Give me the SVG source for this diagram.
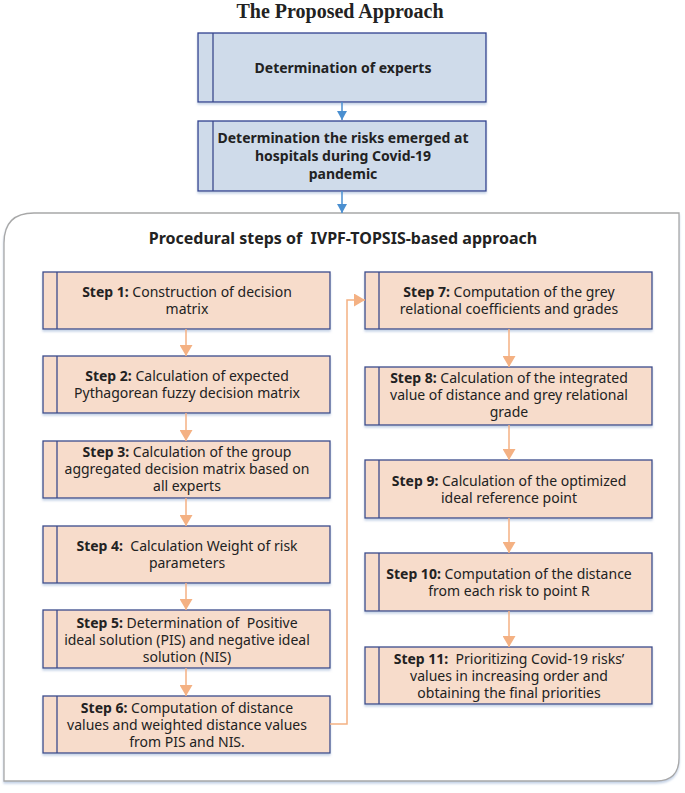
<svg xmlns="http://www.w3.org/2000/svg" width="685" height="793" viewBox="0 0 685 793">
<style>
.title{font-family:"Liberation Serif",serif;font-weight:bold;font-size:20px;fill:#222;text-anchor:middle}
.head{font-family:"Noto Sans","Open Sans",sans-serif;font-weight:bold;font-size:16px;fill:#222;text-anchor:middle;white-space:pre}
.bt{font-family:"Noto Sans","Open Sans",sans-serif;font-weight:bold;font-size:14px;fill:#222;text-anchor:middle}
.st{font-family:"Noto Sans","Open Sans",sans-serif;font-size:14px;fill:#222;text-anchor:middle;white-space:pre}
.st .b{font-weight:bold}
.blue{fill:#cfdbea;stroke:#2f3f8f;stroke-width:1.3}
.peach{fill:#f7dccb;stroke:#3b4a8c;stroke-width:1.3}
.div{stroke:#3b4a8c;stroke-width:1.3;fill:none}
.ca{stroke:#f4b183;stroke-width:1.5;fill:none;marker-end:url(#pa)}
.cb{stroke:#4a8fd0;stroke-width:1.5;fill:none;marker-end:url(#ba)}
</style>
<defs>
<marker id="pa" markerUnits="userSpaceOnUse" markerWidth="11" markerHeight="13" refX="11" refY="6.5" orient="auto"><path d="M0,0 L11,6.5 L0,13 z" fill="#f4b183"/></marker>
<marker id="ba" markerUnits="userSpaceOnUse" markerWidth="9" markerHeight="10" refX="9" refY="5" orient="auto"><path d="M0,0 L9,5 L0,10 z" fill="#4a8fd0"/></marker>
<filter id="sh" x="-5%" y="-10%" width="110%" height="125%"><feDropShadow dx="0" dy="2" stdDeviation="1.2" flood-color="#9fb6d6" flood-opacity="0.6"/></filter>
</defs>

<text class="title" x="340" y="18">The Proposed Approach</text>

<g id="container">
<path d="M4,781 L4,243 Q4,213 34,213 L679,213 L679,758 Q679,781 656,781 Z" fill="#fff" stroke="#a8a8a8" stroke-width="1.3" filter="url(#sh)"/>
<text class="head" x="343" y="244" xml:space="preserve">Procedural steps of  IVPF-TOPSIS-based approach</text>
</g>

<g id="experts">
<rect class="blue" x="198" y="33" width="288" height="69" filter="url(#sh)"/>
<line class="div" x1="213" y1="33" x2="213" y2="102"/>
<text class="bt" x="343" y="73">Determination of experts</text>
</g>

<g id="risks">
<rect class="blue" x="198" y="121" width="288" height="70" filter="url(#sh)"/>
<line class="div" x1="213" y1="121" x2="213" y2="191"/>
<text class="bt" x="343" y="143">Determination the risks emerged at<tspan x="343" dy="18">hospitals during Covid-19</tspan><tspan x="343" dy="18">pandemic</tspan></text>
</g>

<g id="step1">
<rect class="peach" x="43" y="272" width="287" height="57" filter="url(#sh)"/>
<line class="div" x1="57" y1="272" x2="57" y2="329"/>
<text class="st" x="187" y="297"><tspan class="b">Step 1:</tspan> Construction of decision<tspan x="187" dy="17">matrix</tspan></text>
</g>
<g id="step2">
<rect class="peach" x="43" y="356" width="287" height="57" filter="url(#sh)"/>
<line class="div" x1="57" y1="356" x2="57" y2="413"/>
<text class="st" x="187" y="381"><tspan class="b">Step 2:</tspan> Calculation of expected<tspan x="187" dy="17">Pythagorean fuzzy decision matrix</tspan></text>
</g>
<g id="step3">
<rect class="peach" x="43" y="441" width="287" height="57" filter="url(#sh)"/>
<line class="div" x1="57" y1="441" x2="57" y2="498"/>
<text class="st" x="187" y="457"><tspan class="b">Step 3:</tspan> Calculation of the group<tspan x="187" dy="17">aggregated decision matrix based on</tspan><tspan x="187" dy="17">all experts</tspan></text>
</g>
<g id="step4">
<rect class="peach" x="43" y="526" width="287" height="57" filter="url(#sh)"/>
<line class="div" x1="57" y1="526" x2="57" y2="583"/>
<text class="st" x="187" y="551" xml:space="preserve"><tspan class="b">Step 4:</tspan>  Calculation Weight of risk<tspan x="187" dy="17">parameters</tspan></text>
</g>
<g id="step5">
<rect class="peach" x="43" y="610" width="287" height="58" filter="url(#sh)"/>
<line class="div" x1="57" y1="610" x2="57" y2="668"/>
<text class="st" x="187" y="628" xml:space="preserve"><tspan class="b">Step 5:</tspan> Determination of  Positive<tspan x="187" dy="17">ideal solution (PIS) and negative ideal</tspan><tspan x="187" dy="17">solution (NIS)</tspan></text>
</g>
<g id="step6">
<rect class="peach" x="43" y="696" width="287" height="57" filter="url(#sh)"/>
<line class="div" x1="57" y1="696" x2="57" y2="753"/>
<text class="st" x="187" y="713"><tspan class="b">Step 6:</tspan> Computation of distance<tspan x="187" dy="17">values and weighted distance values</tspan><tspan x="187" dy="17">from PIS and NIS.</tspan></text>
</g>

<g id="step7">
<rect class="peach" x="365" y="272" width="287" height="57" filter="url(#sh)"/>
<line class="div" x1="379" y1="272" x2="379" y2="329"/>
<text class="st" x="509" y="297"><tspan class="b">Step 7:</tspan> Computation of the grey<tspan x="509" dy="17">relational coefficients and grades</tspan></text>
</g>
<g id="step8">
<rect class="peach" x="365" y="367" width="287" height="58" filter="url(#sh)"/>
<line class="div" x1="379" y1="367" x2="379" y2="425"/>
<text class="st" x="509" y="383"><tspan class="b">Step 8:</tspan> Calculation of the integrated<tspan x="509" dy="17">value of distance and grey relational</tspan><tspan x="509" dy="17">grade</tspan></text>
</g>
<g id="step9">
<rect class="peach" x="365" y="460" width="287" height="58" filter="url(#sh)"/>
<line class="div" x1="379" y1="460" x2="379" y2="518"/>
<text class="st" x="509" y="486"><tspan class="b">Step 9:</tspan> Calculation of the optimized<tspan x="509" dy="17">ideal reference point</tspan></text>
</g>
<g id="step10">
<rect class="peach" x="365" y="553" width="287" height="58" filter="url(#sh)"/>
<line class="div" x1="379" y1="553" x2="379" y2="611"/>
<text class="st" x="509" y="579"><tspan class="b">Step 10:</tspan> Computation of the distance<tspan x="509" dy="17">from each risk to point R</tspan></text>
</g>
<g id="step11">
<rect class="peach" x="365" y="647" width="287" height="57" filter="url(#sh)"/>
<line class="div" x1="379" y1="647" x2="379" y2="704"/>
<text class="st" x="509" y="664" xml:space="preserve"><tspan class="b">Step 11:</tspan>  Prioritizing Covid-19 risks’<tspan x="509" dy="17">values in increasing order and</tspan><tspan x="509" dy="17">obtaining the final priorities</tspan></text>
</g>

<g id="connectors">
<line class="cb" x1="342" y1="102" x2="342" y2="120"/>
<line class="cb" x1="342" y1="191" x2="342" y2="213"/>
<line class="ca" x1="186" y1="329" x2="186" y2="356"/>
<line class="ca" x1="186" y1="413" x2="186" y2="441"/>
<line class="ca" x1="186" y1="498" x2="186" y2="526"/>
<line class="ca" x1="186" y1="583" x2="186" y2="610"/>
<line class="ca" x1="186" y1="668" x2="186" y2="696"/>
<polyline class="ca" points="330,724 347,724 347,300 365,300"/>
<line class="ca" x1="509" y1="329" x2="509" y2="367"/>
<line class="ca" x1="509" y1="425" x2="509" y2="460"/>
<line class="ca" x1="509" y1="518" x2="509" y2="553"/>
<line class="ca" x1="509" y1="611" x2="509" y2="647"/>
</g>
</svg>
